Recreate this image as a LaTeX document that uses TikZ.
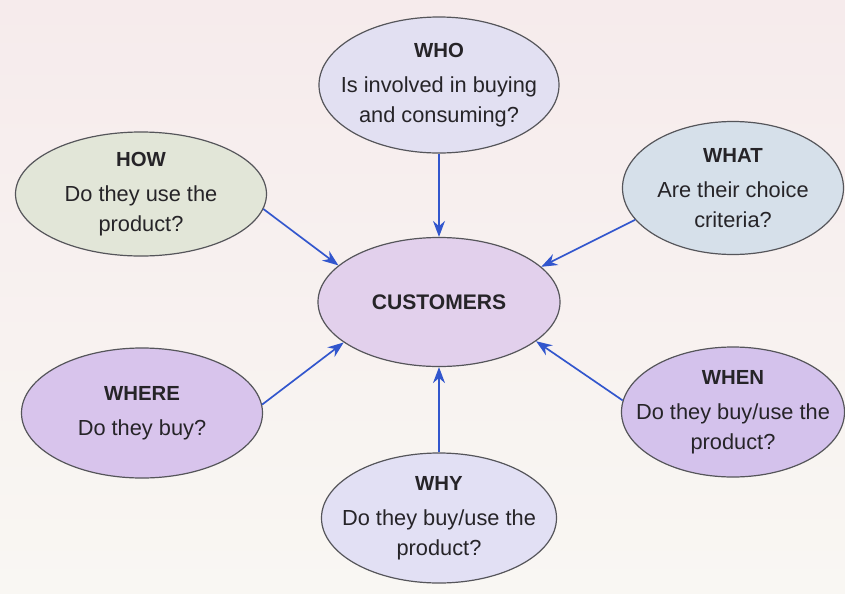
\documentclass[tikz,border=0pt]{standalone}
\usepackage{fontspec}
\setmainfont{Liberation Sans}
\usetikzlibrary{shapes.geometric,arrows.meta}

\definecolor{bgtop}{RGB}{246,235,236}
\definecolor{bgbot}{RGB}{249,247,243}
\definecolor{arrowblue}{RGB}{50,86,205}
\definecolor{rimgray}{RGB}{85,85,90}
\definecolor{inkgray}{RGB}{38,36,40}
\definecolor{whofill}{RGB}{226,224,242}
\definecolor{howfill}{RGB}{226,230,216}
\definecolor{whatfill}{RGB}{214,224,234}
\definecolor{custfill}{RGB}{226,208,236}
\definecolor{wherefill}{RGB}{216,196,236}
\definecolor{whenfill}{RGB}{212,194,236}
\definecolor{whyfill}{RGB}{226,224,244}

\newcommand\qhead[1]{{\bfseries\fontsize{14.5}{17}\selectfont #1}\\[4pt]}

\begin{document}
\begin{tikzpicture}[x=0.25mm,y=-0.25mm,
    bubble/.style={ellipse,draw=rimgray,line width=0.3mm,inner xsep=-12mm,inner ysep=-6mm,
      align=center,text=inkgray,font=\fontsize{15.5}{21}\selectfont},
    arr/.style={draw=arrowblue,line width=0.42mm,-{Stealth[length=4mm,width=3mm]}}]
    \useasboundingbox (0,0) rectangle (845,593);
    \shade[top color=bgtop,bottom color=bgbot] (0,0) rectangle (845,593);

    % the six questions round the customer
    \node[bubble,fill=custfill,minimum width=60.5mm,minimum height=32.25mm,
      font=\bfseries\fontsize{15}{18}\selectfont] (cust) at (439,302) {CUSTOMERS};
    \node[bubble,fill=whofill,minimum width=60mm,minimum height=34mm] (who) at (439,85)
      {\qhead{WHO}Is involved in buying\\and consuming?};
    \node[bubble,fill=howfill,minimum width=62.75mm,minimum height=31mm] (how) at (141,194)
      {\qhead{HOW}Do they use the\\product?};
    \node[bubble,fill=whatfill,minimum width=55.25mm,minimum height=33.25mm] (what) at (733,188)
      {\qhead{WHAT}Are their choice\\criteria?};
    \node[bubble,fill=wherefill,minimum width=60.25mm,minimum height=32.5mm] (where) at (142,413)
      {\qhead{WHERE}Do they buy?};
    \node[bubble,fill=whenfill,minimum width=55.75mm,minimum height=32.5mm] (when) at (733,412)
      {\qhead{WHEN}Do they buy/use the\\product?};
    \node[bubble,fill=whyfill,minimum width=58.75mm,minimum height=32.5mm] (why) at (439,518)
      {\qhead{WHY}Do they buy/use the\\product?};

    \draw[arr] (who) -- (cust);
    \draw[arr] (how.-7) -- (cust.160);
    \draw[arr] (what.-162) -- (cust.19);
    \draw[arr] (where.4) -- (cust.-157);
    \draw[arr] (when.174) -- (cust.-22);
    \draw[arr] (why) -- (cust);
\end{tikzpicture}
\end{document}
